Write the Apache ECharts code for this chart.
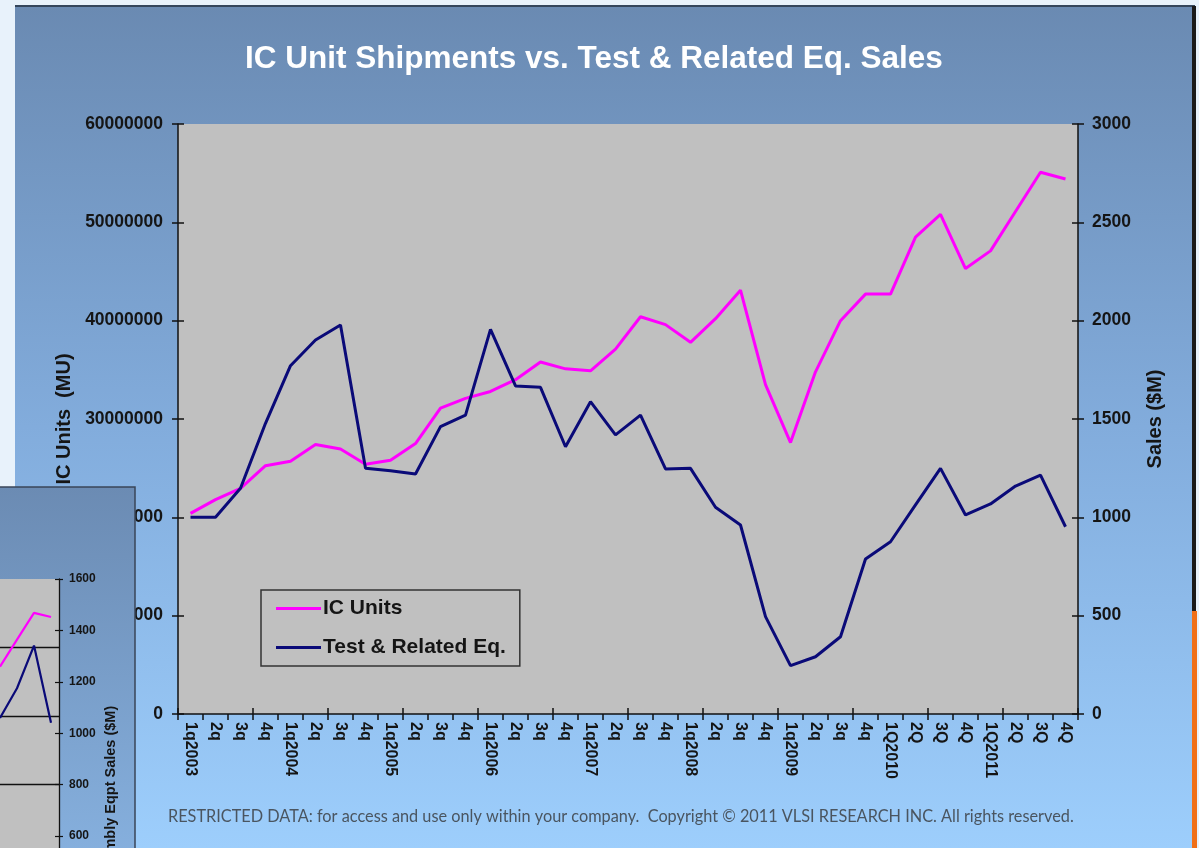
<!DOCTYPE html>
<html>
<head>
<meta charset="utf-8">
<script src="https://cdn.jsdelivr.net/npm/echarts@6/dist/echarts.min.js"></script>
<style>
html,body{margin:0;padding:0;background:#e8f2fb;}
#chart{width:1199px;height:848px;}
</style>
</head>
<body>
<div id="chart"></div>
<script>
// ---- data ----
const categories = ['1q2003','2q','3q','4q','1q2004','2q','3q','4q','1q2005','2q','3q','4q',
  '1q2006','2q','3q','4q','1q2007','2q','3q','4q','1q2008','2q','3q','4q',
  '1q2009','2q','3q','4q','1Q2010','2Q','3Q','4Q','1Q2011','2Q','3Q','4Q'];
const icUnits = [20400000, 21800000, 22950000, 25250000, 25700000, 27400000, 26950000, 25400000,
  25800000, 27500000, 31100000, 32100000, 32800000, 34000000, 35800000, 35100000,
  34900000, 37100000, 40400000, 39600000, 37800000, 40200000, 43100000, 33500000,
  27600000, 34800000, 40000000, 42700000, 42700000, 48500000, 50800000, 45300000,
  47100000, 51100000, 55100000, 54400000];
const testEq = [1000, 1000, 1148, 1478, 1771, 1902, 1978, 1249, 1237, 1220, 1461, 1520,
  1956, 1668, 1661, 1359, 1588, 1419, 1520, 1246, 1249, 1051, 961, 495,
  246, 291, 393, 788, 876, 1063, 1249, 1012, 1068, 1159, 1215, 952];
const leftTicks = [0, 10000000, 20000000, 30000000, 40000000, 50000000, 60000000];
const rightTicks = [0, 500, 1000, 1500, 2000, 2500, 3000];
// partially visible overlapping chart (bottom-left): last four quarters shown
const insetIndex = [0, 1, 2, 3];
const insetPink = [1259, 1364, 1468, 1452];
const insetNavy = [1059, 1175, 1341, 1041];
const insetTicks = [600, 800, 1000, 1200, 1400, 1600];

const titleText = 'IC Unit Shipments vs. Test & Related Eq. Sales';
const footerText = 'RESTRICTED DATA: for access and use only within your company.  Copyright \u00A9 2011 VLSI RESEARCH INC. All rights reserved.';
const insetAxisName = 'Assembly Eqpt Sales ($M)';

const FONT = 'Liberation Sans, Arial, sans-serif';
const PINK = '#ff00ff';
const NAVY = '#0a0a78';

const chart = echarts.init(document.getElementById('chart'), null, {renderer:'canvas'});
const axisLbl = {color:'#151515', fontWeight:'bold', fontSize:17.5, fontFamily:FONT};
const tickStyle = {color:'#111', width:1.5};

const option = {
  backgroundColor:'#e8f2fb',
  animation:false,
  title:{
    text:titleText, left:240, top:38, padding:5,
    textStyle:{color:'#ffffff', fontSize:31.5, fontWeight:'bold', fontFamily:FONT}
  },
  legend:{
    data:['IC Units','Test & Related Eq.'],
    orient:'vertical', left:261, top:590,
    padding:[8,14,8,15], itemGap:18,
    itemWidth:45, itemHeight:3, icon:'rect',
    borderColor:'#333', borderWidth:1.5,
    textStyle:{color:'#151515', fontWeight:'bold', fontSize:21, fontFamily:FONT, padding:[0,0,0,-3]}
  },
  graphic:[
    {type:'rect', z:-20, shape:{x:15,y:6,width:1177,height:842},
     style:{fill:new echarts.graphic.LinearGradient(0,0,0,1,[
       {offset:0,color:'#6a8ab2'},{offset:0.5,color:'#82acdc'},{offset:1,color:'#9dcefc'}])}},
    {type:'rect', z:-19, shape:{x:15,y:5,width:1180,height:2}, style:{fill:'#34465c'}},
    {type:'rect', z:-19, shape:{x:1192,y:6,width:4,height:605}, style:{fill:'#1a1a1a'}},
    {type:'rect', z:-19, shape:{x:1192,y:611,width:5,height:237}, style:{fill:'#f07018'}},
    {type:'text', z:5, left:168, top:809,
     style:{text:footerText, fill:'#4a5560', font:'16.3px Lato, sans-serif'}},
    // inset chart background (covers part of main axis)
    {type:'rect', z:50, shape:{x:-2,y:487,width:137,height:370},
     style:{fill:new echarts.graphic.LinearGradient(0,0,0,1,[
       {offset:0,color:'#6b8bb3'},{offset:1,color:'#86b0de'}]), stroke:'#3a4658', lineWidth:1.5}},
    {type:'rect', z:51, shape:{x:0,y:579,width:59,height:280}, style:{fill:'#c0c0c0'}},
    {type:'text', z:54, x:111, y:796, rotation:Math.PI/2,
     style:{text:insetAxisName, fill:'#151515', font:'bold 14.5px Liberation Sans, Arial, sans-serif',
       align:'center', verticalAlign:'middle'}}
  ],
  grid:[
    {left:178, right:121, top:124, bottom:134, show:true, backgroundColor:'#c0c0c0', borderWidth:0},
    {left:0, width:59, top:579, height:257, z:52},
    {left:0, width:59, top:579, height:269, z:52}
  ],
  xAxis:[
    {type:'category', gridIndex:0, data:categories, boundaryGap:true,
     axisLine:{lineStyle:tickStyle},
     axisTick:{show:true, length:6, lineStyle:tickStyle},
     axisLabel:Object.assign({}, axisLbl, {fontSize:16, rotate:-90, interval:0, margin:8})},
    {type:'category', gridIndex:0, data:categories, boundaryGap:true, position:'bottom',
     axisLine:{show:false}, axisLabel:{show:false},
     axisTick:{show:true, inside:true, length:6, lineStyle:tickStyle}},
    {type:'value', gridIndex:1, min:0, max:3.47, show:false},
    {type:'value', gridIndex:2, min:0, max:1, show:false}
  ],
  yAxis:[
    {type:'value', gridIndex:0, position:'left', min:leftTicks[0], max:leftTicks[leftTicks.length-1], interval:leftTicks[1]-leftTicks[0],
     name:'IC Units  (MU)', nameLocation:'middle', nameGap:104, nameRotate:90,
     nameTextStyle:{color:'#151515', fontWeight:'bold', fontSize:20, fontFamily:FONT},
     axisLine:{show:true, lineStyle:tickStyle},
     axisTick:{show:true, length:6, lineStyle:tickStyle},
     splitLine:{show:false},
     axisLabel:Object.assign({}, axisLbl, {margin:15, formatter:v => String(v)})},
    {type:'value', gridIndex:0, position:'right', min:rightTicks[0], max:rightTicks[rightTicks.length-1], interval:rightTicks[1]-rightTicks[0],
     name:'Sales ($M)', nameLocation:'middle', nameGap:67, nameRotate:90,
     nameTextStyle:{color:'#151515', fontWeight:'bold', fontSize:20, fontFamily:FONT},
     axisLine:{show:true, lineStyle:tickStyle},
     axisTick:{show:true, length:6, lineStyle:tickStyle},
     splitLine:{show:false},
     axisLabel:Object.assign({}, axisLbl, {margin:14, formatter:v => String(v)})},
    {type:'value', gridIndex:0, position:'left', min:leftTicks[0], max:leftTicks[leftTicks.length-1], interval:leftTicks[1]-leftTicks[0],
     axisLine:{show:false}, axisLabel:{show:false}, splitLine:{show:false},
     axisTick:{show:true, inside:true, length:6, lineStyle:tickStyle}},
    {type:'value', gridIndex:0, position:'right', min:rightTicks[0], max:rightTicks[rightTicks.length-1], interval:rightTicks[1]-rightTicks[0],
     axisLine:{show:false}, axisLabel:{show:false}, splitLine:{show:false},
     axisTick:{show:true, inside:true, length:6, lineStyle:tickStyle}},
    // inset axes (index 4..7)
    {type:'value', gridIndex:1, position:'right', min:insetTicks[0], max:insetTicks[insetTicks.length-1], interval:200, z:53,
     axisLine:{show:false, onZero:false},
     axisTick:{show:true, length:4, lineStyle:{color:'#111', width:1.2}},
     splitLine:{show:false},
     axisLabel:{color:'#151515', fontWeight:'bold', fontSize:12, fontFamily:FONT, margin:10, formatter:v => String(v)}},
    {type:'value', gridIndex:1, position:'right', min:insetTicks[0], max:insetTicks[insetTicks.length-1], interval:200, z:53,
     axisLine:{show:false, onZero:false}, axisLabel:{show:false}, splitLine:{show:false},
     axisTick:{show:true, inside:true, length:4, lineStyle:{color:'#111', width:1.2}}},
    {type:'value', gridIndex:2, position:'right', min:0, max:1, z:53,
     axisLine:{show:true, onZero:false, lineStyle:{color:'#111', width:1.3}},
     axisTick:{show:false}, axisLabel:{show:false}, splitLine:{show:false}},
    {type:'value', gridIndex:2, position:'left', inverse:true, min:0, max:3.93, interval:1, z:52,
     axisLine:{show:false, onZero:false}, axisTick:{show:false}, axisLabel:{show:false},
     splitLine:{show:true, showMinLine:false, showMaxLine:false, lineStyle:{color:'#111', width:1.3}}}
  ],
  series:[
    {name:'IC Units', type:'line', xAxisIndex:0, yAxisIndex:0, data:icUnits,
     symbol:'none', lineStyle:{color:PINK, width:3}, itemStyle:{color:PINK}, z:3},
    {name:'Test & Related Eq.', type:'line', xAxisIndex:0, yAxisIndex:1, data:testEq,
     symbol:'none', lineStyle:{color:NAVY, width:3}, itemStyle:{color:NAVY}, z:4},
    {name:'inset1', type:'line', xAxisIndex:2, yAxisIndex:4, data:insetIndex.map((x,i)=>[x, insetPink[i]]),
     symbol:'none', lineStyle:{color:PINK, width:2.2}, z:53},
    {name:'inset2', type:'line', xAxisIndex:2, yAxisIndex:4, data:insetIndex.map((x,i)=>[x, insetNavy[i]]),
     symbol:'none', lineStyle:{color:NAVY, width:2.2}, z:53}
  ]
};
chart.setOption(option);
</script>
</body>
</html>
